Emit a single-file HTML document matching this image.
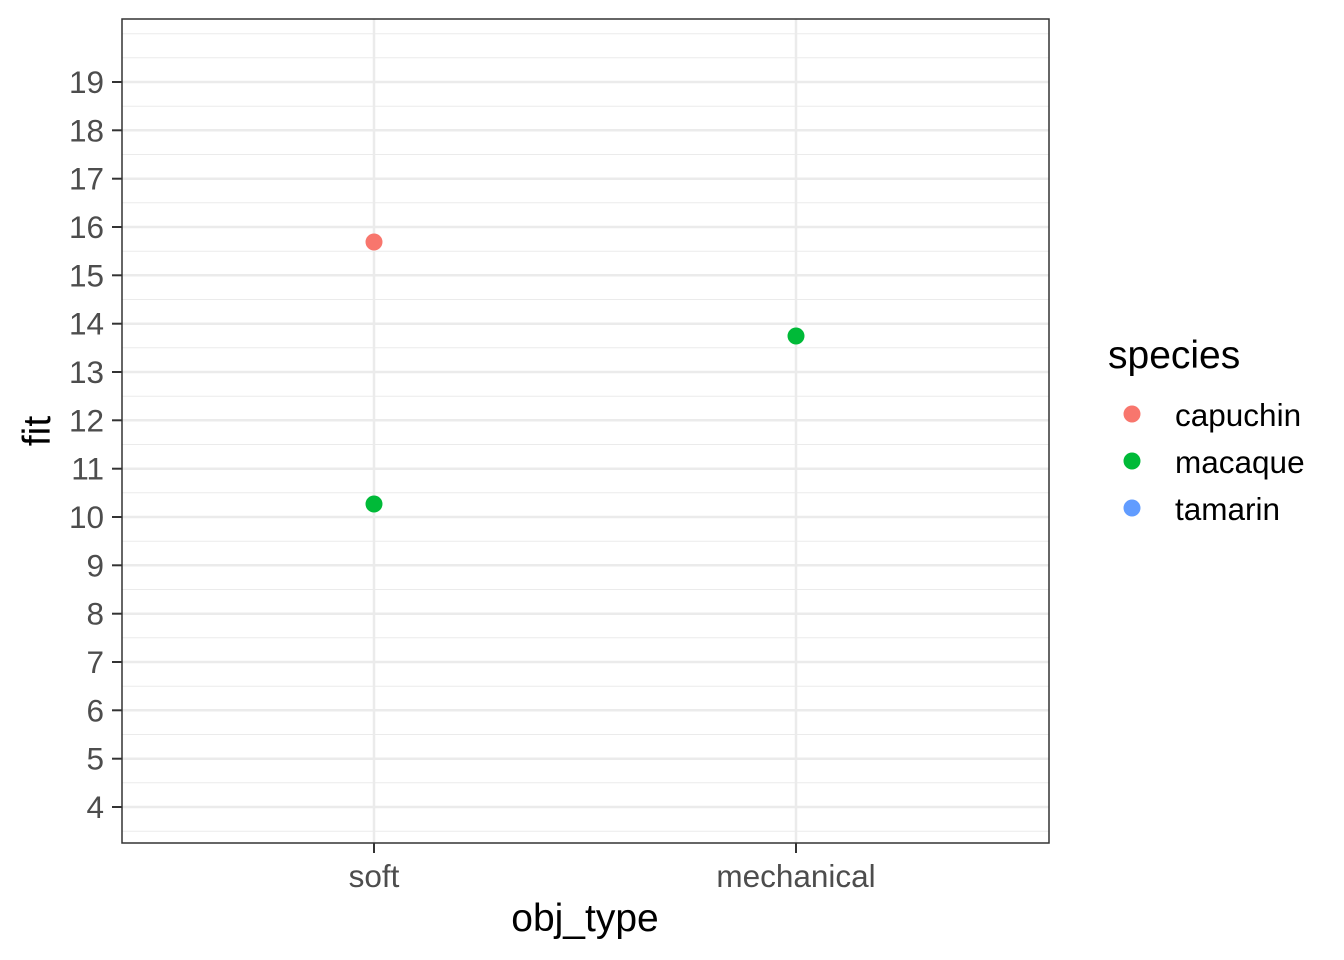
<!DOCTYPE html>
<html><head><style>body{margin:0;background:#fff}svg{display:block}</style></head><body>
<svg width="1344" height="960" xmlns="http://www.w3.org/2000/svg" font-family="Liberation Sans, Arial, sans-serif">
<rect width="1344" height="960" fill="#fff"/>
<g stroke="#ebebeb" stroke-width="1">
<line x1="122" x2="1049" y1="33.7" y2="33.7"/><line x1="122" x2="1049" y1="57.8" y2="57.8"/>
<line x1="122" x2="1049" y1="106.2" y2="106.2"/><line x1="122" x2="1049" y1="154.5" y2="154.5"/>
<line x1="122" x2="1049" y1="202.8" y2="202.8"/><line x1="122" x2="1049" y1="251.2" y2="251.2"/>
<line x1="122" x2="1049" y1="299.5" y2="299.5"/><line x1="122" x2="1049" y1="347.8" y2="347.8"/>
<line x1="122" x2="1049" y1="396.2" y2="396.2"/><line x1="122" x2="1049" y1="444.5" y2="444.5"/>
<line x1="122" x2="1049" y1="492.8" y2="492.8"/><line x1="122" x2="1049" y1="541.2" y2="541.2"/>
<line x1="122" x2="1049" y1="589.5" y2="589.5"/><line x1="122" x2="1049" y1="637.8" y2="637.8"/>
<line x1="122" x2="1049" y1="686.2" y2="686.2"/><line x1="122" x2="1049" y1="734.5" y2="734.5"/>
<line x1="122" x2="1049" y1="782.8" y2="782.8"/><line x1="122" x2="1049" y1="831.2" y2="831.2"/>
</g>
<g stroke="#ebebeb" stroke-width="2.5">
<line x1="122" x2="1049" y1="82" y2="82"/><line x1="122" x2="1049" y1="130.3" y2="130.3"/>
<line x1="122" x2="1049" y1="178.7" y2="178.7"/><line x1="122" x2="1049" y1="227" y2="227"/>
<line x1="122" x2="1049" y1="275.3" y2="275.3"/><line x1="122" x2="1049" y1="323.7" y2="323.7"/>
<line x1="122" x2="1049" y1="372" y2="372"/><line x1="122" x2="1049" y1="420.3" y2="420.3"/>
<line x1="122" x2="1049" y1="468.7" y2="468.7"/><line x1="122" x2="1049" y1="517" y2="517"/>
<line x1="122" x2="1049" y1="565.3" y2="565.3"/><line x1="122" x2="1049" y1="613.7" y2="613.7"/>
<line x1="122" x2="1049" y1="662" y2="662"/><line x1="122" x2="1049" y1="710.3" y2="710.3"/>
<line x1="122" x2="1049" y1="758.7" y2="758.7"/><line x1="122" x2="1049" y1="807" y2="807"/>
<line x1="374" x2="374" y1="19" y2="843"/><line x1="796" x2="796" y1="19" y2="843"/>
</g>
<circle cx="374" cy="242" r="8.5" fill="#F8766D"/>
<circle cx="374" cy="504" r="8.5" fill="#00BA38"/>
<circle cx="796" cy="336" r="8.5" fill="#00BA38"/>
<rect x="122" y="19" width="927" height="824" fill="none" stroke="#333" stroke-width="1.5"/>
<g stroke="#333" stroke-width="2">
<line x1="112" x2="122" y1="82" y2="82"/><line x1="112" x2="122" y1="130.3" y2="130.3"/>
<line x1="112" x2="122" y1="178.7" y2="178.7"/><line x1="112" x2="122" y1="227" y2="227"/>
<line x1="112" x2="122" y1="275.3" y2="275.3"/><line x1="112" x2="122" y1="323.7" y2="323.7"/>
<line x1="112" x2="122" y1="372" y2="372"/><line x1="112" x2="122" y1="420.3" y2="420.3"/>
<line x1="112" x2="122" y1="468.7" y2="468.7"/><line x1="112" x2="122" y1="517" y2="517"/>
<line x1="112" x2="122" y1="565.3" y2="565.3"/><line x1="112" x2="122" y1="613.7" y2="613.7"/>
<line x1="112" x2="122" y1="662" y2="662"/><line x1="112" x2="122" y1="710.3" y2="710.3"/>
<line x1="112" x2="122" y1="758.7" y2="758.7"/><line x1="112" x2="122" y1="807" y2="807"/>
<line x1="374" x2="374" y1="843" y2="853"/><line x1="796" x2="796" y1="843" y2="853"/>
</g>
<g fill="#4d4d4d" font-size="31.5" text-anchor="end">
<text x="104" y="93">19</text><text x="104" y="141.3">18</text><text x="104" y="189.7">17</text>
<text x="104" y="238">16</text><text x="104" y="286.3">15</text><text x="104" y="334.7">14</text>
<text x="104" y="383">13</text><text x="104" y="431.3">12</text><text x="104" y="479.7">11</text>
<text x="104" y="528">10</text><text x="104" y="576.3">9</text><text x="104" y="624.7">8</text>
<text x="104" y="673">7</text><text x="104" y="721.3">6</text><text x="104" y="769.7">5</text>
<text x="104" y="818">4</text>
</g>
<g fill="#4d4d4d" font-size="31.5" text-anchor="middle">
<text x="374" y="887">soft</text><text x="796" y="887">mechanical</text>
</g>
<text x="585" y="931" font-size="39" text-anchor="middle">obj_type</text>
<text x="50" y="431" font-size="39" text-anchor="middle" transform="rotate(-90 50 431)">fit</text>
<text x="1108" y="368" font-size="39">species</text>
<circle cx="1132" cy="414" r="8.5" fill="#F8766D"/>
<circle cx="1132" cy="461" r="8.5" fill="#00BA38"/>
<circle cx="1132" cy="508" r="8.5" fill="#619CFF"/>
<g font-size="31.5"><text x="1175" y="426">capuchin</text><text x="1175" y="473">macaque</text><text x="1175" y="520">tamarin</text></g>
</svg>
</body></html>
